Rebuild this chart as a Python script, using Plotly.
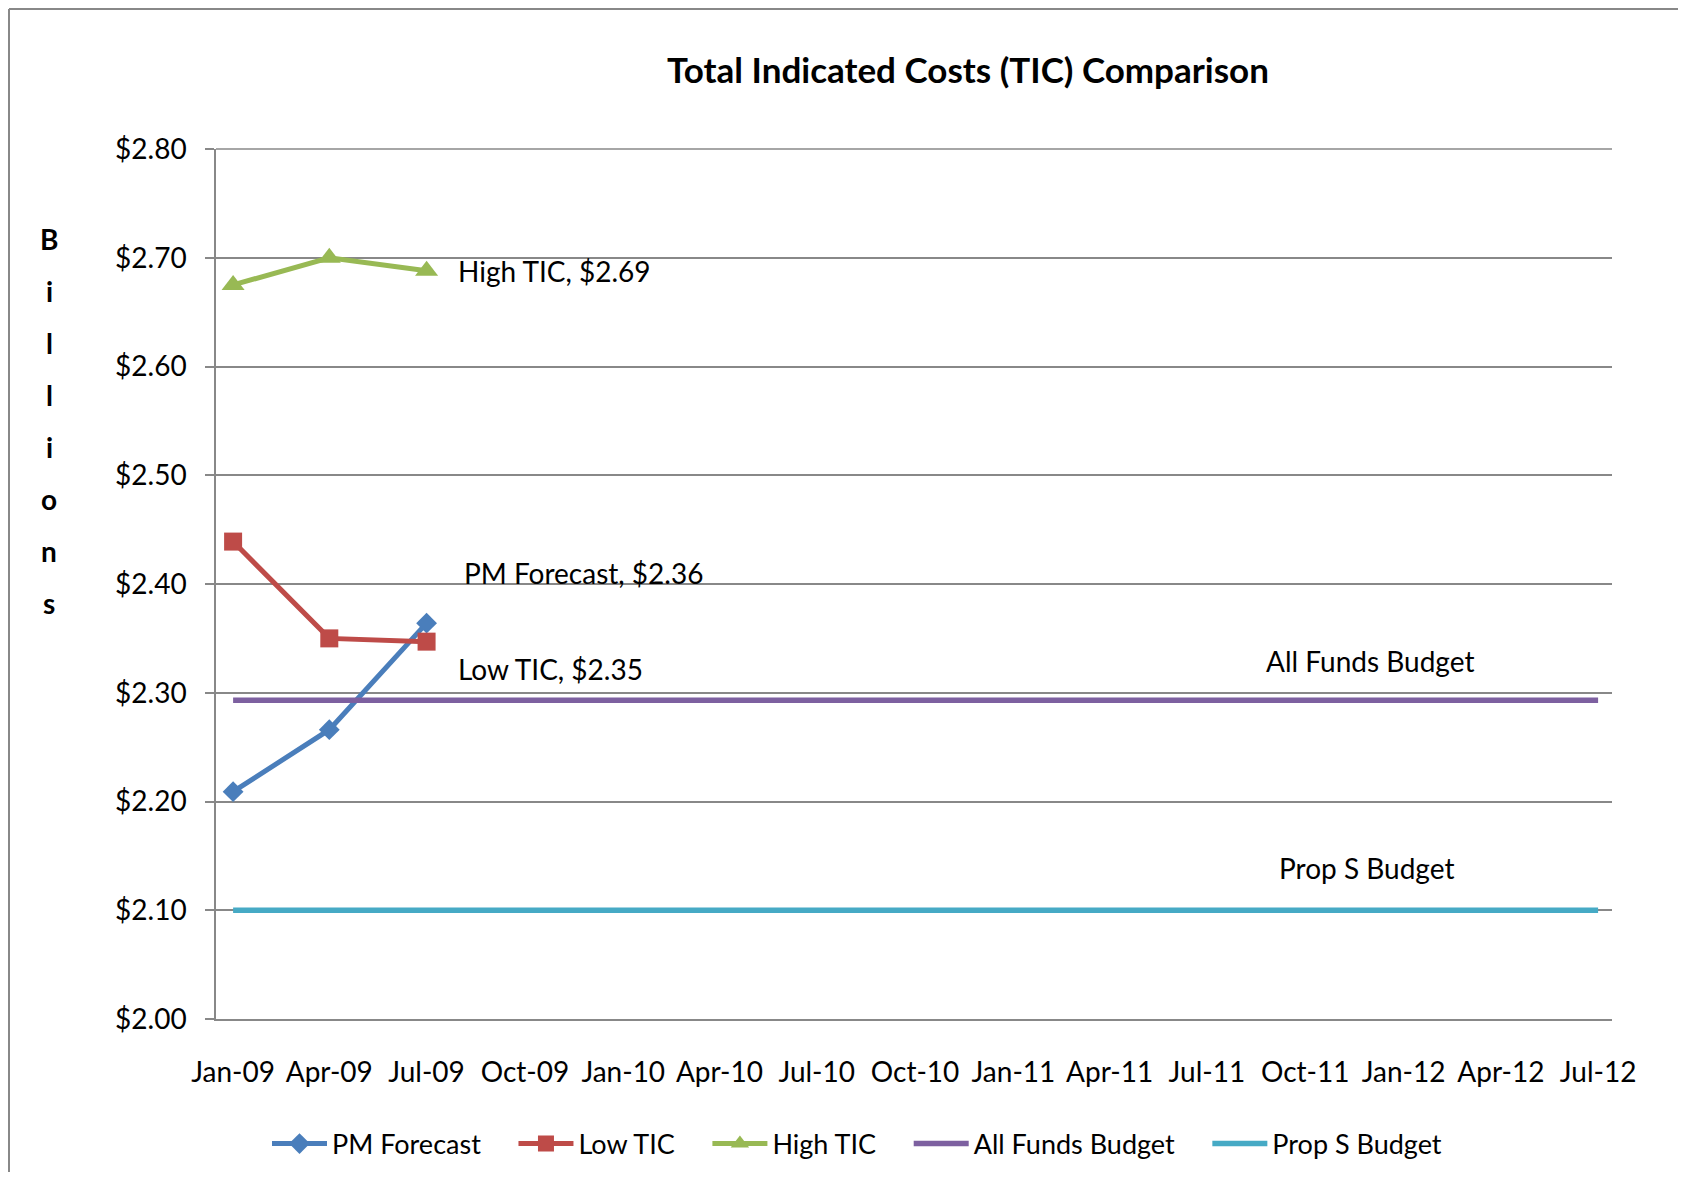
import plotly.graph_objects as go

# ---- data ----
dates = ["2009-01-01", "2009-04-01", "2009-07-01"]
pm_forecast = [2.209, 2.266, 2.364]
low_tic = [2.439, 2.350, 2.347]
high_tic = [2.675, 2.700, 2.688]
budget_dates = ["2009-01-01", "2012-07-01"]
all_funds_budget = [2.293, 2.293]
prop_s_budget = [2.100, 2.100]

series_names = ["PM Forecast", "Low TIC", "High TIC", "All Funds Budget", "Prop S Budget"]
colors = ["#4A7EBB", "#BE4B48", "#98B954", "#7D60A0", "#46AAC5"]

title_text = "Total Indicated Costs (TIC) Comparison"
y_title_letters = list("Billions")

FONT = "Lato"
GRID = "#888888"
PAD = "\u00a0" * 4  # spacing between legend entries

# page offset: the browser body has an 8px margin
OFF = 8
W, H = 1686 - 2 * OFF, 1180 - 2 * OFF
# plot area in page pixels: x 216..1612, y 149..1019
L = 216 - OFF
R = W - (1612 - OFF)
T = 149 - OFF
B = H - (1019 - OFF)
pw, ph = W - L - R, H - T - B


def px_x(px):
    return (px - OFF - L) / pw


def px_y(py):
    return (H - B - (py - OFF)) / ph


fig = go.Figure()
fig.add_trace(go.Scatter(x=dates, y=pm_forecast, name=series_names[0] + PAD, mode="lines+markers",
                         line=dict(color=colors[0], width=5),
                         marker=dict(symbol="diamond", size=16, color=colors[0])))
fig.add_trace(go.Scatter(x=dates, y=low_tic, name=series_names[1] + PAD, mode="lines+markers",
                         line=dict(color=colors[1], width=5),
                         marker=dict(symbol="square", size=18, color=colors[1])))
fig.add_trace(go.Scatter(x=dates, y=high_tic, name=series_names[2] + PAD, mode="lines+markers",
                         line=dict(color=colors[2], width=5),
                         marker=dict(symbol="triangle-up", size=20, color=colors[2])))
fig.add_trace(go.Scatter(x=budget_dates, y=all_funds_budget, name=series_names[3] + PAD, mode="lines",
                         line=dict(color=colors[3], width=5.5)))
fig.add_trace(go.Scatter(x=budget_dates, y=prop_s_budget, name=series_names[4], mode="lines",
                         line=dict(color=colors[4], width=5.5)))

annotations = []
annotations.append(dict(x=dates[-1], y=high_tic[-1], text=f"High TIC, ${high_tic[-1]:.2f}",
                        xanchor="left", yanchor="middle", xshift=29, yshift=0, showarrow=False))
annotations.append(dict(x=dates[-1], y=pm_forecast[-1], text=f"PM Forecast, ${pm_forecast[-1]:.2f}",
                        xanchor="left", yanchor="middle", xshift=35, yshift=50, showarrow=False))
annotations.append(dict(x=dates[-1], y=low_tic[-1], text=f"Low TIC, ${low_tic[-1]:.2f}",
                        xanchor="left", yanchor="middle", xshift=29, yshift=-27, showarrow=False))
annotations.append(dict(x="2011-12-01", y=all_funds_budget[0], text="All Funds Budget",
                        xanchor="center", yanchor="middle", yshift=39, showarrow=False))
annotations.append(dict(x="2011-11-27", y=prop_s_budget[0], text="Prop S Budget",
                        xanchor="center", yanchor="middle", yshift=42, showarrow=False))
for a in annotations:
    a["font"] = dict(family=FONT, size=28, color="black")

for i, ch in enumerate(y_title_letters):
    annotations.append(dict(xref="paper", yref="paper", x=px_x(49), y=px_y(239 + 52 * i),
                            text=f"<b>{ch}</b>", showarrow=False, xanchor="center", yanchor="middle",
                            font=dict(family=FONT, size=28, color="black")))

shapes = [
    # outer chart border (top and left visible)
    dict(type="line", xref="paper", yref="paper", x0=px_x(9), x1=px_x(1700), y0=px_y(9), y1=px_y(9),
         line=dict(color=GRID, width=2)),
    dict(type="line", xref="paper", yref="paper", x0=px_x(9), x1=px_x(9), y0=px_y(9), y1=px_y(1200),
         line=dict(color=GRID, width=2)),
    # top gridline at $2.80
    dict(type="line", xref="paper", yref="paper", x0=0, x1=1, y0=1, y1=1,
         line=dict(color=GRID, width=1.5)),
]

fig.update_layout(
    width=W, height=H,
    margin=dict(l=L, r=R, t=T, b=B, autoexpand=False),
    paper_bgcolor="white", plot_bgcolor="white",
    font=dict(family=FONT, size=28, color="black"),
    title=dict(text=f"<b>{title_text}</b>", x=(968 - OFF) / W, xref="container", xanchor="center",
               y=1 - (71 - OFF) / H, yref="container", yanchor="middle",
               font=dict(family=FONT, size=35, color="black")),
    xaxis=dict(type="date", range=["2008-12-16", "2012-07-14"], tick0="2009-01-01", dtick="M3",
               tickformat="%b-%y", showgrid=False, showline=True, linecolor=GRID, linewidth=1.5,
               ticks="", ticklabelstandoff=28, zeroline=False, automargin=False,
               tickfont=dict(family=FONT, size=28, color="black")),
    yaxis=dict(range=[2.0, 2.8], dtick=0.1, tick0=2.0, tickformat="$.2f", showgrid=True,
               gridcolor=GRID, gridwidth=1.5, showline=True, linecolor=GRID, linewidth=1.5,
               ticks="outside", ticklen=9, tickcolor=GRID, tickwidth=1.5, zeroline=False,
               automargin=False,
               ticklabelstandoff=13, tickfont=dict(family=FONT, size=28, color="black")),
    legend=dict(orientation="h", x=px_x(857), y=px_y(1144), xanchor="center", yanchor="middle",
                font=dict(family=FONT, size=27, color="black"), itemwidth=55,
                bgcolor="rgba(0,0,0,0)"),
    showlegend=True,
    annotations=annotations,
    shapes=shapes,
)

fig.write_html("out.html")
